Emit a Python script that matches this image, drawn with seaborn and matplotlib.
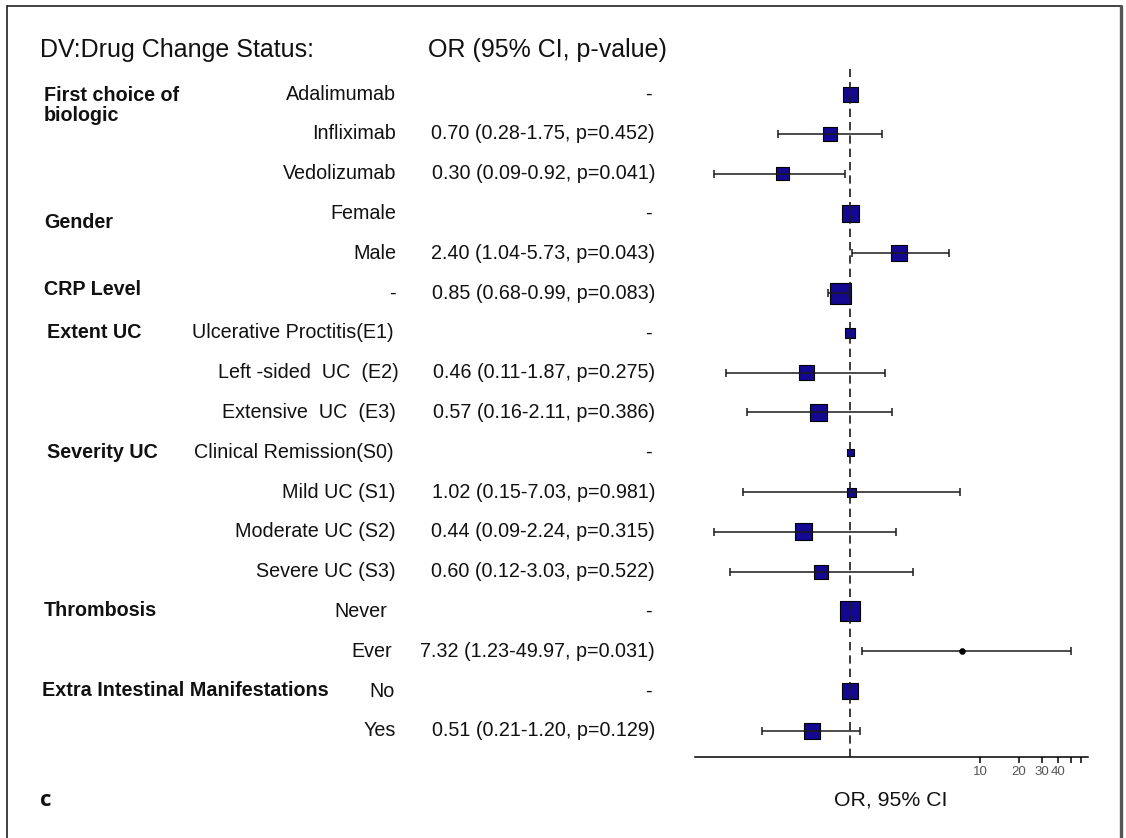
import numpy as np
import pandas as pd
import matplotlib
matplotlib.use("Agg")
import matplotlib.pyplot as plt
import seaborn as sns
from matplotlib import transforms
from matplotlib.lines import Line2D
from matplotlib.ticker import FixedLocator, FixedFormatter, NullLocator

# ---------------- data ----------------
groups = ["First choice of\nbiologic", "Gender", "CRP Level", "Extent UC",
          "Severity UC", "Thrombosis", "Extra Intestinal Manifestations"]
subgroups = ["Adalimumab", "Infliximab", "Vedolizumab",
             "Female", "Male",
             "-",
             "Ulcerative Proctitis(E1)", "Left -sided  UC  (E2)", "Extensive  UC  (E3)",
             "Clinical Remission(S0)", "Mild UC (S1)", "Moderate UC (S2)", "Severe UC (S3)",
             "Never", "Ever",
             "No", "Yes"]
odds_ratio = [1, 0.70, 0.30, 1, 2.40, 0.85, 1, 0.46, 0.57, 1, 1.02, 0.44, 0.60, 1, 7.32, 1, 0.51]
ci_low = [np.nan, 0.28, 0.09, np.nan, 1.04, 0.68, np.nan, 0.11, 0.16, np.nan, 0.15, 0.09, 0.12,
          np.nan, 1.23, np.nan, 0.21]
ci_high = [np.nan, 1.75, 0.92, np.nan, 5.73, 0.99, np.nan, 1.87, 2.11, np.nan, 7.03, 2.24, 3.03,
           np.nan, 49.97, np.nan, 1.20]
p_values = [np.nan, 0.452, 0.041, np.nan, 0.043, 0.083, np.nan, 0.275, 0.386, np.nan, 0.981, 0.315,
            0.522, np.nan, 0.031, np.nan, 0.129]
# box side (weight), in pixels
weight_px = [15, 14, 13, 17, 16, 21, 10, 15, 17, 7, 9, 17, 14, 20, 6, 16, 16]
tick_values = [10, 20, 30, 40, 50, 60]
tick_labels = ["10", "20", "30", "40", "", ""]

# ---------------- layout ----------------
W, H = 1126, 838
group_label_rows = [(0.03, 0.55), (3.23,), (4.92,), (6.0,), (9.0,), (12.97,), (14.98,)]
group_label_x = [44, 44, 44, 47, 47, 44, 42]
sub_right_x = [396] * 17
sub_right_x[6] = 394
sub_right_x[7] = 399
sub_right_x[9] = 394
sub_right_x[13] = 387
sub_right_x[14] = 392
sub_right_x[15] = 395
dot_rows = [14]

sns.set_theme(style="white")
plt.rcParams["font.family"] = ["Liberation Sans", "DejaVu Sans"]

fig = plt.figure(figsize=(W / 100, H / 100), dpi=100)
fig.patch.set_facecolor("white")

ax_left, ax_right = 695, 1088
ax_top, ax_bottom = 69, 757
ax = fig.add_axes([ax_left / W, 1 - ax_bottom / H, (ax_right - ax_left) / W, (ax_bottom - ax_top) / H])
ax.set_facecolor("white")

row0, dy = 94, 39.8
n = len(subgroups)
rows = np.arange(n)

df = pd.DataFrame({"row": rows, "OR": odds_ratio, "lo": ci_low, "hi": ci_high,
                   "area": (np.array(weight_px) * 0.72) ** 2})
df["is_dot"] = df["row"].isin(dot_rows)

sq = df[~df["is_dot"]]
sns.scatterplot(data=sq, x="OR", y="row", size="area",
                sizes={v: v for v in sq["area"].unique()},
                marker="s", color="#13088f", edgecolor="black", linewidth=0.8,
                legend=False, ax=ax, zorder=2)
dots = df[df["is_dot"]]
sns.scatterplot(data=dots, x="OR", y="row", s=float(dots["area"].iloc[0]), marker="o",
                color="black", edgecolor="black", legend=False, ax=ax, zorder=4)

ci = df.dropna(subset=["lo"])
ax.errorbar(ci["OR"], ci["row"], xerr=[ci["OR"] - ci["lo"], ci["hi"] - ci["OR"]],
            fmt="none", ecolor="#1a1a1a", elinewidth=1.1, capsize=3, capthick=1.1, zorder=3)

ax.axvline(1, color="#1a1a1a", lw=1.2, linestyle=(0, (5, 3)), zorder=3)

ax.set_xscale("log")
ax.set_xlim(0.064, 67.9)
ax.set_ylim((ax_bottom - row0) / dy, (ax_top - row0) / dy)
ax.set_yticks([])
ax.set_xlabel("")
ax.set_ylabel("")
for s in ["left", "top", "right"]:
    ax.spines[s].set_visible(False)
ax.spines["bottom"].set_linewidth(1.1)
ax.spines["bottom"].set_color("black")
ax.xaxis.set_major_locator(FixedLocator(tick_values))
ax.xaxis.set_major_formatter(FixedFormatter(tick_labels))
ax.xaxis.set_minor_locator(NullLocator())
ax.tick_params(axis="x", which="major", direction="out", length=4.5, width=1.1, color="black",
               labelcolor="#555555", labelsize=9.5, pad=2, bottom=True)

# ---------------- texts ----------------
tr = transforms.blended_transform_factory(fig.transFigure, ax.transData)
fs = 14.2
for i in range(n):
    ax.text(sub_right_x[i] / W, i, subgroups[i], transform=tr, ha="right", va="center",
            fontsize=fs, color="#111111")
    if np.isnan(ci_low[i]):
        ax.text(652 / W, i, "-", transform=tr, ha="right", va="center", fontsize=fs, color="#111111")
    else:
        txt = f"{odds_ratio[i]:.2f} ({ci_low[i]:.2f}-{ci_high[i]:.2f}, p={p_values[i]:.3f})"
        ax.text(655 / W, i, txt, transform=tr, ha="right", va="center", fontsize=fs, color="#111111")

for g, rr, gx in zip(groups, group_label_rows, group_label_x):
    for line, r in zip(g.split("\n"), rr):
        ax.text(gx / W, r, line, transform=tr, ha="left", va="center", fontsize=fs,
                fontweight="bold", color="#111111")

fig.text(40 / W, 1 - 50 / H, "DV:Drug Change Status:", ha="left", va="center", fontsize=18, color="#111111")
fig.text(428 / W, 1 - 50 / H, "OR (95% CI, p-value)", ha="left", va="center", fontsize=18, color="#111111")
fig.text(891 / W, 1 - 800 / H, "OR, 95% CI", ha="center", va="center", fontsize=15.3, color="#111111")
fig.text(40 / W, 1 - 800 / H, "c", ha="left", va="center", fontsize=16, fontweight="bold",
         family=["Open Sans", "DejaVu Sans"], color="#111111")

# border
fig.add_artist(Line2D([7 / W, 7 / W], [1 - 6 / H, 0], transform=fig.transFigure, color="#222222", lw=1.2))
fig.add_artist(Line2D([7 / W, 1121 / W], [1 - 6 / H, 1 - 6 / H], transform=fig.transFigure, color="#222222", lw=1.2))
fig.add_artist(Line2D([1121 / W, 1121 / W], [1 - 6 / H, 0], transform=fig.transFigure, color="#555555", lw=2.4))

fig.savefig("out.png", dpi=100, facecolor="white")
